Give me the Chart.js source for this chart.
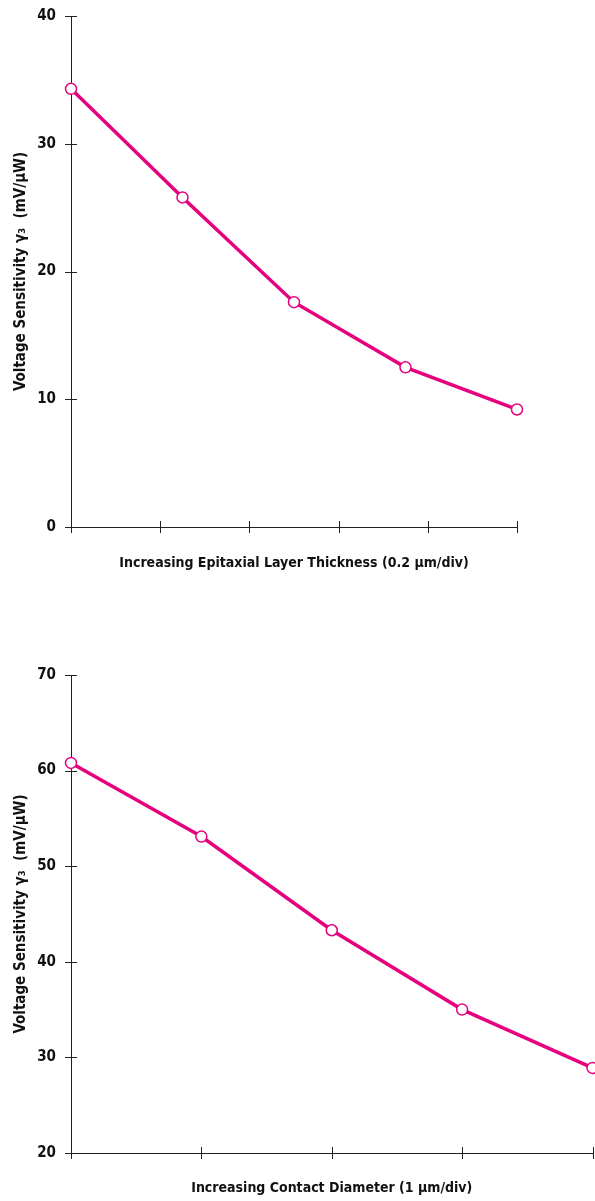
<!DOCTYPE html>
<html>
<head>
<meta charset="utf-8">
<script src="https://cdn.jsdelivr.net/npm/chart.js@4.4.1/dist/chart.umd.min.js"></script>
<style>
  html, body { margin: 0; padding: 0; background: #fff; }
  canvas { display: block; }
</style>
</head>
<body>
<canvas id="chartEpi" width="595" height="600"></canvas>
<canvas id="chartDiam" width="595" height="601"></canvas>
<script>
// top chart: epitaxial layer thickness
const epiX = [0, 1.25, 2.5, 3.75, 5];
const epiY = [34.3, 25.8, 17.6, 12.5, 9.2];
const epiYTicks = [0, 10, 20, 30, 40];

// bottom chart: contact diameter
const diamX = [0, 1, 2, 3, 4];
const diamY = [60.8, 53.1, 43.3, 35.0, 28.9];
const diamYTicks = [20, 30, 40, 50, 60, 70];

const lineColor = '#e6007e';
const axisColor = '#222';
const fontFamily = "'Liberation Sans Narrow', 'DejaVu Sans Condensed', sans-serif";
const yTitle = 'Voltage Sensitivity \u03b3\u2083  (mV/\u03bcW)';

// tick marks that cross the axis line on both sides
const crossTicks = {
  id: 'crossTicks',
  beforeDatasetsDraw(chart) {
    const {ctx, chartArea, scales: {x, y}} = chart;
    ctx.save();
    ctx.strokeStyle = axisColor;
    ctx.lineWidth = 1;
    ctx.beginPath();
    x.ticks.forEach(t => {
      const px = Math.round(x.getPixelForValue(t.value)) + 0.5;
      ctx.moveTo(px, chartArea.bottom - 6);
      ctx.lineTo(px, chartArea.bottom + 6);
    });
    y.ticks.forEach(t => {
      const py = Math.round(y.getPixelForValue(t.value)) + 0.5;
      ctx.moveTo(chartArea.left - 6, py);
      ctx.lineTo(chartArea.left + 6, py);
    });
    ctx.stroke();
    ctx.restore();
  }
};

function makeChart(id, xs, ys, yTicks, xMax, xLabel, padding, xHeight, xTitlePad) {
  const ctx = document.getElementById(id).getContext('2d');
  return new Chart(ctx, {
    type: 'line',
    data: {
      datasets: [{
        data: xs.map((v, i) => ({x: v, y: ys[i]})),
        borderColor: lineColor,
        borderWidth: 3.5,
        pointRadius: 5.5,
        pointBorderWidth: 1.5,
        pointBackgroundColor: '#fff',
        pointBorderColor: lineColor,
        tension: 0,
        clip: false
      }]
    },
    options: {
      responsive: false,
      animation: false,
      devicePixelRatio: 1,
      layout: { padding: padding, autoPadding: false },
      plugins: { legend: { display: false }, tooltip: { enabled: false } },
      scales: {
        x: {
          type: 'linear',
          min: 0,
          max: xMax,
          ticks: { stepSize: 1, display: false },
          grid: { display: false },
          border: { display: true, color: axisColor, width: 1 },
          title: {
            display: true,
            text: xLabel,
            color: '#111',
            font: { family: fontFamily, size: 14, weight: 'bold' },
            padding: { top: 0, bottom: xTitlePad }
          },
          afterFit: s => { s.height = xHeight; }
        },
        y: {
          type: 'linear',
          min: yTicks[0],
          max: yTicks[yTicks.length - 1],
          afterBuildTicks: s => { s.ticks = yTicks.map(v => ({value: v})); },
          ticks: {
            color: '#111',
            padding: 0,
            font: { family: fontFamily, size: 15, weight: 'bold' }
          },
          // grid hidden; tickLength only spaces the labels off the axis
          grid: { display: false, drawTicks: true, tickLength: 15 },
          border: { display: true, color: axisColor, width: 1 },
          title: {
            display: true,
            text: yTitle,
            color: '#111',
            font: { family: fontFamily, size: 15, weight: 'bold' },
            padding: { top: 12, bottom: 0 }
          },
          afterFit: s => { s.width = 71; }
        }
      }
    },
    plugins: [crossTicks]
  });
}

makeChart('chartEpi', epiX, epiY, epiYTicks, 5,
  'Increasing Epitaxial Layer Thickness (0.2 \u03bcm/div)',
  {top: 16, left: 0, right: 78, bottom: 0}, 73, 28);

makeChart('chartDiam', diamX, diamY, diamYTicks, 4,
  'Increasing Contact Diameter (1 \u03bcm/div)',
  {top: 75, left: 0, right: 2.5, bottom: 0}, 48, 4);
</script>
</body>
</html>
